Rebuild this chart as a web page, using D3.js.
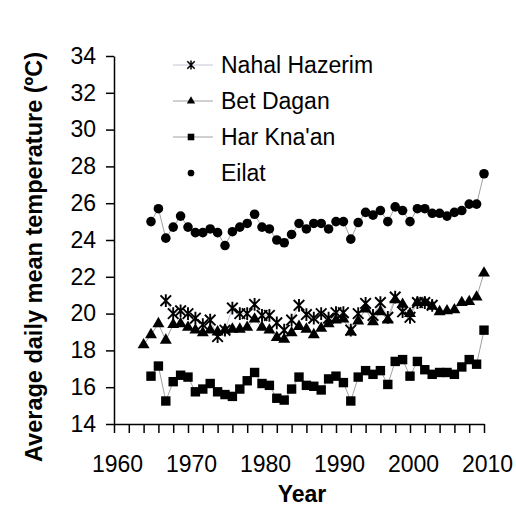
<!DOCTYPE html>
<html>
<head>
<meta charset="utf-8">
<script src="https://cdn.jsdelivr.net/npm/d3@7"></script>
<style>
  body { margin: 0; background: #fff; }
  text { font-family: "Liberation Sans", Arial, sans-serif; }
</style>
</head>
<body>
<svg width="516" height="508"></svg>
<script>
// series values, one per year, starting at the given year
const nahalStart = 1967;
const nahalHazerim = [20.7, 20.0, 20.15, 20.0, 19.75, 19.4, 19.65, 18.75, 19.1, 20.3,
  20.0, 20.0, 20.5, 19.9, 19.9, 19.5, 19.1, 19.65, 20.45, 19.95,
  19.75, 20.0, 19.75, 20.05, 20.05, 19.1, 20.0, 20.55, 19.9, 20.6,
  19.8, 20.9, 20.1, 19.8, 20.6, 20.6, 20.45];

const betStart = 1964;
const betDagan = [18.3, 18.85, 19.45, 18.55, 19.4, 19.45, 19.25, 19.1, 18.95, 19.1,
  19.0, 19.1, 19.15, 19.15, 19.25, 19.7, 19.25, 19.1, 18.7, 18.6,
  18.95, 19.3, 19.15, 18.85, 19.2, 19.45, 19.65, 19.7, 19.0, 19.6,
  20.25, 19.55, 20.1, 19.65, 20.75, 20.5, 20.0, 20.6, 20.6, 20.4,
  20.1, 20.15, 20.2, 20.6, 20.65, 20.9, 22.2];

const harStart = 1965;
const harKnaan = [16.6, 17.15, 15.25, 16.3, 16.65, 16.55, 15.75, 15.9, 16.2, 15.75,
  15.6, 15.5, 15.9, 16.35, 16.8, 16.2, 16.1, 15.4, 15.3, 15.9,
  16.55, 16.1, 16.05, 15.85, 16.45, 16.6, 16.25, 15.25, 16.55, 16.9,
  16.7, 16.9, 16.15, 17.4, 17.5, 16.6, 17.4, 16.95, 16.7, 16.8,
  16.8, 16.7, 17.1, 17.5, 17.25, 19.1];

const eilatStart = 1965;
const eilat = [25.0, 25.7, 24.1, 24.7, 25.3, 24.7, 24.4, 24.4, 24.6, 24.4,
  23.7, 24.45, 24.7, 24.9, 25.4, 24.7, 24.6, 24.0, 23.85, 24.3,
  24.9, 24.6, 24.9, 24.9, 24.6, 25.0, 25.0, 24.05, 24.95, 25.5,
  25.35, 25.6, 25.0, 25.8, 25.6, 25.0, 25.7, 25.7, 25.45, 25.45,
  25.3, 25.5, 25.6, 25.95, 25.95, 27.6];

const seriesNames = ["Nahal Hazerim", "Bet Dagan", "Har Kna'an", "Eilat"];
const yTicks = [14, 16, 18, 20, 22, 24, 26, 28, 30, 32, 34];
const xLabels = [1960, 1970, 1980, 1990, 2000, 2010];

const svg = d3.select("svg");

const x = d3.scaleLinear().domain([1960, 2010]).range([114, 484]);
const y = d3.scaleLinear().domain([14, 34]).range([424, 56]);

const toPoints = (start, vals) => vals.map((v, i) => ({ year: start + i, v: v }));

const series = [
  { name: seriesNames[0], data: toPoints(nahalStart, nahalHazerim), shape: "star", line: "#c4c4d8" },
  { name: seriesNames[1], data: toPoints(betStart, betDagan), shape: "tri", line: "#a0a0a0" },
  { name: seriesNames[2], data: toPoints(harStart, harKnaan), shape: "sq", line: "#a0a0a0" },
  { name: seriesNames[3], data: toPoints(eilatStart, eilat), shape: "dot", line: "#a0a0a0" }
];

// draw one marker at (cx, cy)
function marker(g, shape, cx, cy, s) {
  if (shape === "dot") {
    g.append("circle").attr("cx", cx).attr("cy", cy).attr("r", 4.8 * s).attr("fill", "#000");
  } else if (shape === "sq") {
    g.append("rect").attr("x", cx - 4.7 * s).attr("y", cy - 4.7 * s)
      .attr("width", 9.4 * s).attr("height", 9.4 * s).attr("fill", "#000");
  } else if (shape === "tri") {
    g.append("path").attr("transform", `translate(${cx},${cy})`)
      .attr("d", d3.symbol(d3.symbolTriangle, 62 * s * s)()).attr("fill", "#000");
  } else {
    const r = 5.3 * s;
    g.append("path")
      .attr("d", `M${cx - r},${cy - r}L${cx + r},${cy + r}M${cx - r},${cy + r}L${cx + r},${cy - r}M${cx},${cy - r * 1.2}L${cx},${cy + r * 1.2}`)
      .attr("stroke", "#000").attr("stroke-width", 1.9 * Math.max(s, 0.8)).attr("fill", "none");
  }
}

const line = d3.line().x(d => x(d.year)).y(d => y(d.v));

const plot = svg.append("g");
series.forEach(s => {
  plot.append("path").datum(s.data).attr("d", line)
    .attr("fill", "none").attr("stroke", s.line).attr("stroke-width", 1);
});
series.forEach(s => {
  const g = plot.append("g");
  s.data.forEach(d => marker(g, s.shape, x(d.year), y(d.v), 1));
});

// y axis
const yAxis = svg.append("g").attr("transform", `translate(${x(1960)},0)`)
  .call(d3.axisLeft(y).tickValues(yTicks).tickSize(8).tickPadding(10).tickSizeOuter(0));
yAxis.selectAll("text").attr("font-size", 23).attr("fill", "#000")
  .style("font-family", "'Liberation Sans', Arial, sans-serif");

// x axis, ticks every 2 years, labels every 10
const xAxis = svg.append("g").attr("transform", `translate(0,${y(14)})`)
  .call(d3.axisBottom(x).tickValues(d3.range(1960, 2011, 2)).tickSize(9).tickSizeOuter(0)
    .tickFormat(d => xLabels.includes(d) ? d : ""));
xAxis.selectAll("text").attr("font-size", 23).attr("fill", "#000").attr("dy", "1.55em").attr("dx", 3)
  .style("font-family", "'Liberation Sans', Arial, sans-serif");

svg.selectAll(".domain, .tick line").attr("stroke", "#000").attr("stroke-width", 1.5);

// axis titles
svg.append("text").attr("x", 302).attr("y", 502).attr("text-anchor", "middle")
  .attr("font-size", 23).attr("font-weight", "bold").text("Year");
svg.append("text").attr("transform", "translate(42,257) rotate(-90)").attr("text-anchor", "middle")
  .attr("font-size", 23.5).attr("font-weight", "bold").text("Average daily mean temperature (ºC)");

// legend
const legend = svg.append("g");
series.forEach((s, i) => {
  const ly = 65 + i * 36;
  if (s.shape !== "dot") {
    legend.append("line").attr("x1", 173).attr("x2", 213).attr("y1", ly).attr("y2", ly)
      .attr("stroke", s.line).attr("stroke-width", 1);
  }
  marker(legend, s.shape, 191, ly, 0.7);
  legend.append("text").attr("x", 221).attr("y", ly + 8).attr("font-size", 23).text(s.name);
});
</script>
</body>
</html>
